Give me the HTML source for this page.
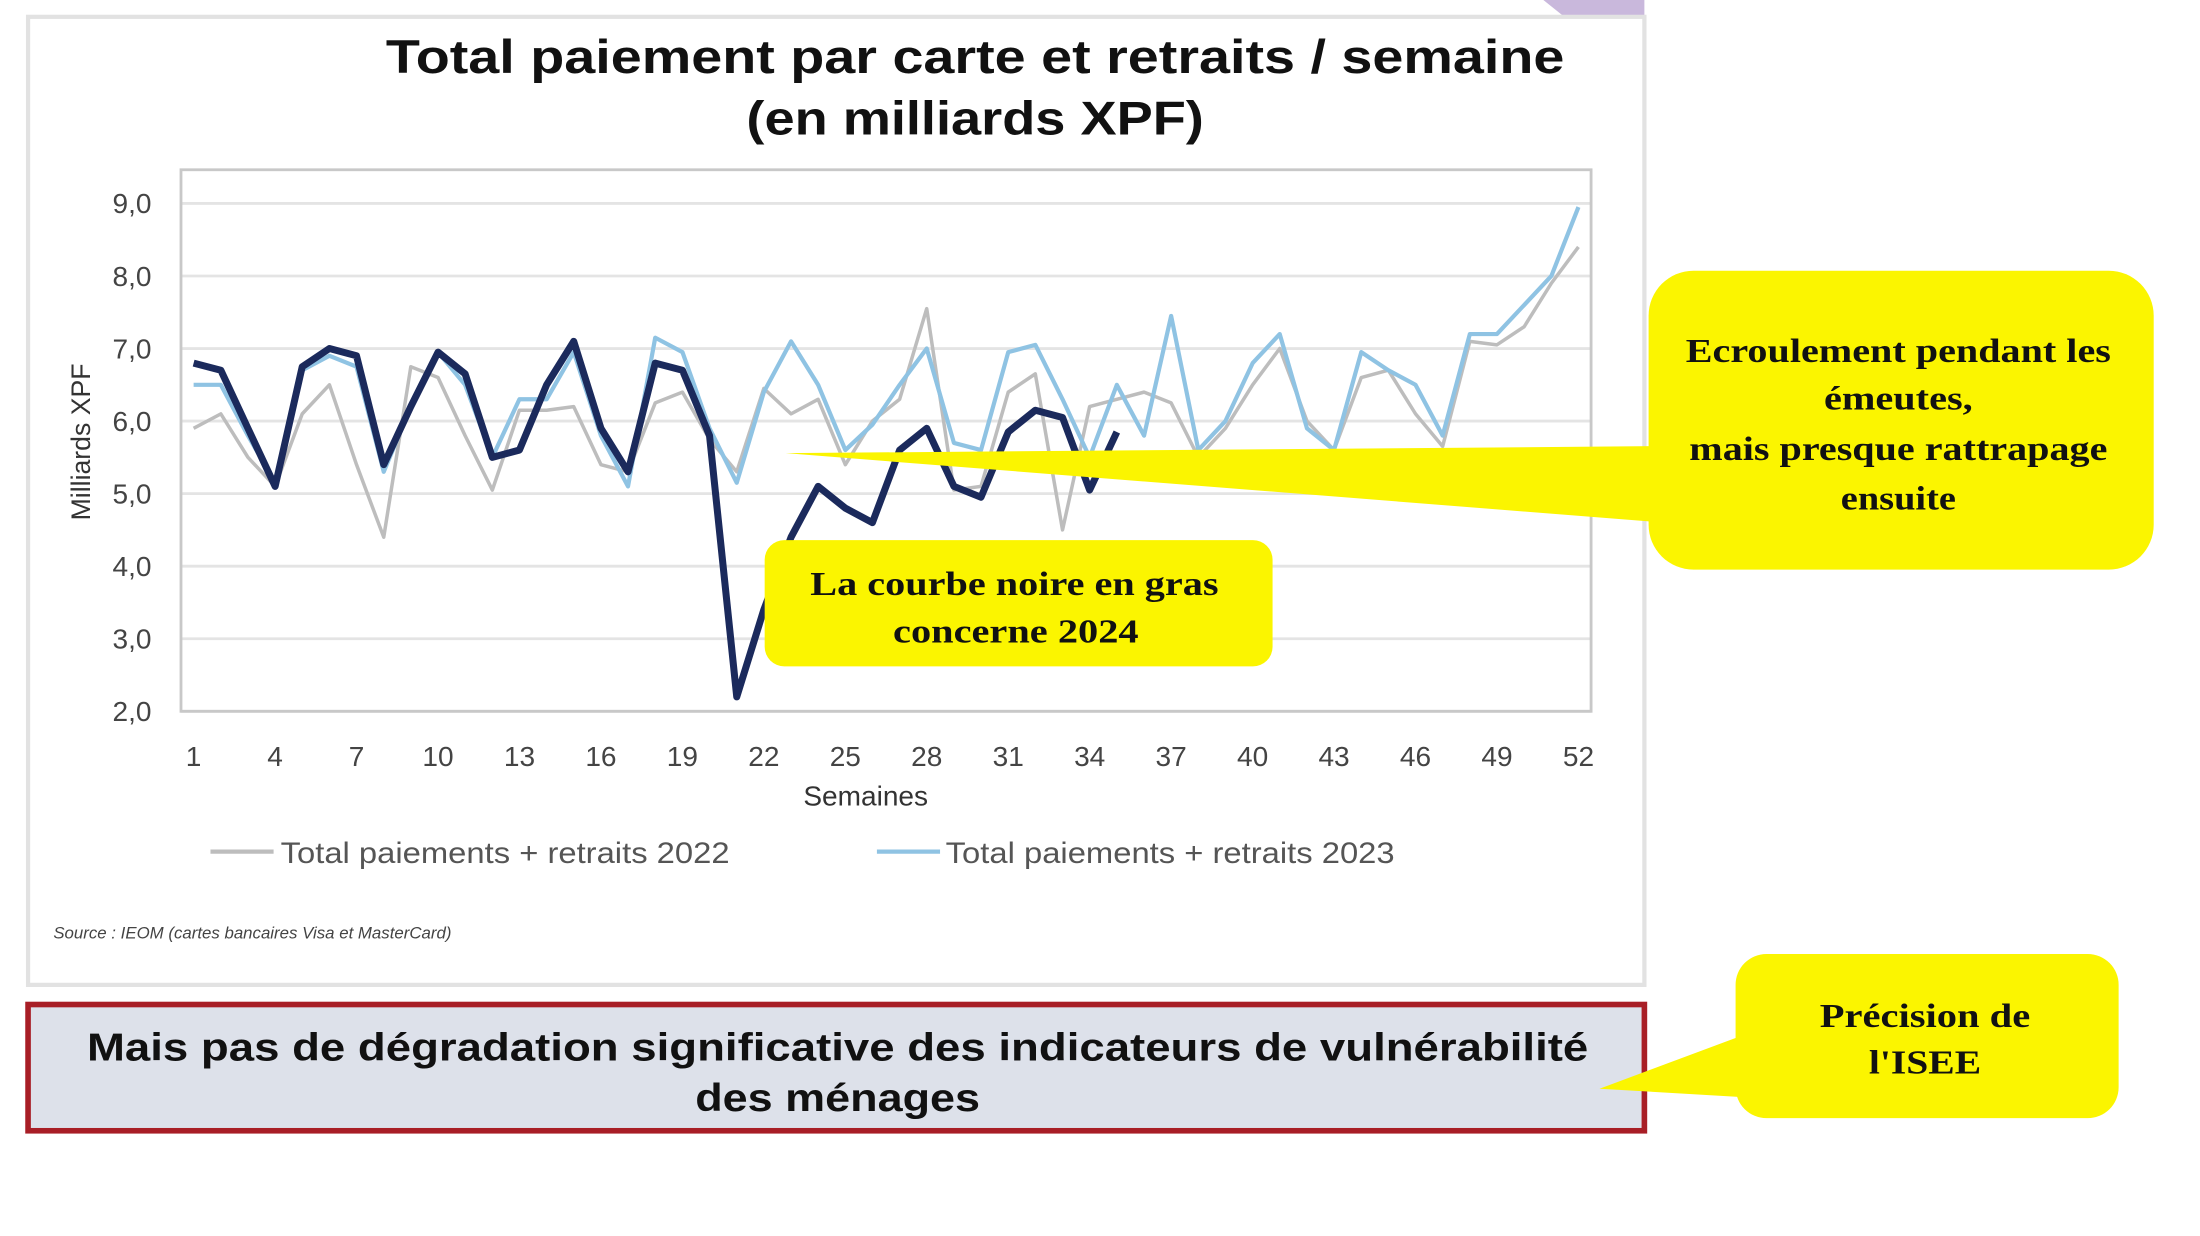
<!DOCTYPE html>
<html><head><meta charset="utf-8"><style>
html,body{margin:0;padding:0;background:#fff;width:2200px;height:1236px;overflow:hidden}
svg{display:block}
.t{font-family:"Liberation Sans",sans-serif}
.s{font-family:"Liberation Serif",serif;font-weight:bold}
</style></head><body>
<svg id="c" width="2200" height="1236" viewBox="0 0 1568 881" preserveAspectRatio="none" xmlns="http://www.w3.org/2000/svg">
<rect width="1568" height="881" fill="#fff"/>
<path d="M1100 0 L1172 0 L1172 12 L1115 12 Z" fill="#c9b8dc"/>
<rect x="20" y="12" width="1152" height="690" fill="#fff" stroke="#e2e2e2" stroke-width="3"/>
<text class="t" x="695" y="52" font-size="34" font-weight="bold" text-anchor="middle" fill="#111" textLength="840" lengthAdjust="spacingAndGlyphs">Total paiement par carte et retraits / semaine</text>
<text class="t" x="695" y="96" font-size="34" font-weight="bold" text-anchor="middle" fill="#111" textLength="326" lengthAdjust="spacingAndGlyphs">(en milliards XPF)</text>
<g id="grid"></g>
<rect x="129" y="121" width="1005" height="386" fill="none" stroke="#c8c8c8" stroke-width="2"/>
<g id="series"></g>
<text class="t" x="617" y="574" font-size="20" text-anchor="middle" fill="#333">Semaines</text>
<text class="t" transform="translate(64,315) rotate(-90)" font-size="19" text-anchor="middle" fill="#333">Milliards XPF</text>
<line x1="150" y1="607" x2="195" y2="607" stroke="#bdbdbd" stroke-width="3"/>
<text class="t" x="200" y="615" font-size="21" fill="#555" textLength="320" lengthAdjust="spacingAndGlyphs">Total paiements + retraits 2022</text>
<line x1="625" y1="607" x2="670" y2="607" stroke="#8fc3e3" stroke-width="3"/>
<text class="t" x="674" y="615" font-size="21" fill="#555" textLength="320" lengthAdjust="spacingAndGlyphs">Total paiements + retraits 2023</text>
<text class="t" x="38" y="669" font-size="12" font-style="italic" fill="#444">Source : IEOM (cartes bancaires Visa et MasterCard)</text>
<rect x="20" y="716" width="1152" height="90" fill="#dde1ea" stroke="#a81e26" stroke-width="4"/>
<text class="t" x="597" y="756" font-size="28" font-weight="bold" text-anchor="middle" fill="#111" textLength="1070" lengthAdjust="spacingAndGlyphs">Mais pas de dégradation significative des indicateurs de vulnérabilité</text>
<text class="t" x="597" y="792" font-size="28" font-weight="bold" text-anchor="middle" fill="#111" textLength="203" lengthAdjust="spacingAndGlyphs">des ménages</text>
<!-- callout 1 -->
<polygon points="560,323 1180,318 1180,372" fill="#fbf500"/>
<rect x="1175" y="193" width="360" height="213" rx="32" fill="#fbf500"/>
<g class="s" font-size="24" text-anchor="middle" fill="#111">
<text x="1353" y="258" textLength="303" lengthAdjust="spacingAndGlyphs">Ecroulement pendant les</text>
<text x="1353" y="292" textLength="106" lengthAdjust="spacingAndGlyphs">émeutes,</text>
<text x="1353" y="328" textLength="298" lengthAdjust="spacingAndGlyphs">mais presque rattrapage</text>
<text x="1353" y="363" textLength="82" lengthAdjust="spacingAndGlyphs">ensuite</text>
</g>
<!-- callout 2 -->
<rect x="545" y="385" width="362" height="90" rx="14" fill="#fbf500"/>
<g class="s" font-size="24" text-anchor="middle" fill="#111">
<text x="723" y="424" textLength="291" lengthAdjust="spacingAndGlyphs">La courbe noire en gras</text>
<text x="724" y="458" textLength="175" lengthAdjust="spacingAndGlyphs">concerne 2024</text>
</g>
<!-- callout 3 -->
<polygon points="1140,776 1242,738 1242,782" fill="#fbf500"/>
<rect x="1237" y="680" width="273" height="117" rx="22" fill="#fbf500"/>
<g class="s" font-size="24" text-anchor="middle" fill="#111">
<text x="1372" y="732" textLength="150" lengthAdjust="spacingAndGlyphs">Précision de</text>
<text x="1372" y="765" textLength="80" lengthAdjust="spacingAndGlyphs">l'ISEE</text>
</g>
</svg>
<script>
var NS="http://www.w3.org/2000/svg";
function X(w){return 138+(w-1)*19.353;}
function Y(v){return 507-(v-2)*51.714;}
var g=document.getElementById('grid');
function el(p,tag,a,txt){var e=document.createElementNS(NS,tag);for(var k in a)e.setAttribute(k,a[k]);if(txt)e.textContent=txt;p.appendChild(e);return e;}
for(var v=2;v<=9;v++){
 el(g,'line',{x1:129,x2:1134,y1:Y(v),y2:Y(v),stroke:'#e4e4e4','stroke-width':2});
 el(g,'text',{x:108,y:Y(v)+7,'font-size':20,'text-anchor':'end',fill:'#444','font-family':'Liberation Sans, sans-serif'},v+',0');
}
for(var w=1;w<=52;w+=3){
 el(g,'text',{x:X(w),y:546,'font-size':20,'text-anchor':'middle',fill:'#444','font-family':'Liberation Sans, sans-serif'},''+w);
}
var d22=[5.9,6.1,5.5,5.1,6.1,6.5,5.4,4.4,6.75,6.6,5.8,5.05,6.15,6.15,6.2,5.4,5.3,6.25,6.4,5.75,5.3,6.45,6.1,6.3,5.4,6.0,6.3,7.55,5.05,5.1,6.4,6.65,4.5,6.2,6.3,6.4,6.25,5.5,5.9,6.5,7.0,6.0,5.6,6.6,6.7,6.1,5.65,7.1,7.05,7.3,7.9,8.4];
var d23=[6.5,6.5,5.8,5.15,6.7,6.9,6.75,5.3,6.2,6.95,6.5,5.5,6.3,6.3,6.95,5.8,5.1,7.15,6.95,5.9,5.15,6.4,7.1,6.5,5.6,5.95,6.5,7.0,5.7,5.6,6.95,7.05,6.3,5.5,6.5,5.8,7.45,5.6,6.0,6.8,7.2,5.9,5.6,6.95,6.7,6.5,5.8,7.2,7.2,7.6,8.0,8.95];
var d24=[6.8,6.7,5.9,5.1,6.75,7.0,6.9,5.4,6.2,6.95,6.65,5.5,5.6,6.5,7.1,5.9,5.3,6.8,6.7,5.8,2.2,3.4,4.4,5.1,4.8,4.6,5.6,5.9,5.1,4.95,5.85,6.15,6.05,5.05,5.85];
var s=document.getElementById('series');
function pl(d,c,w){var p=d.map(function(v,i){return X(i+1).toFixed(1)+','+Y(v).toFixed(1)}).join(' ');
 el(s,'polyline',{points:p,fill:'none',stroke:c,'stroke-width':w,'stroke-linejoin':'round'});}
pl(d22,'#bdbdbd',2.5);pl(d23,'#8fc3e3',3);pl(d24,'#1b2a5c',5);
</script>
</body></html>
